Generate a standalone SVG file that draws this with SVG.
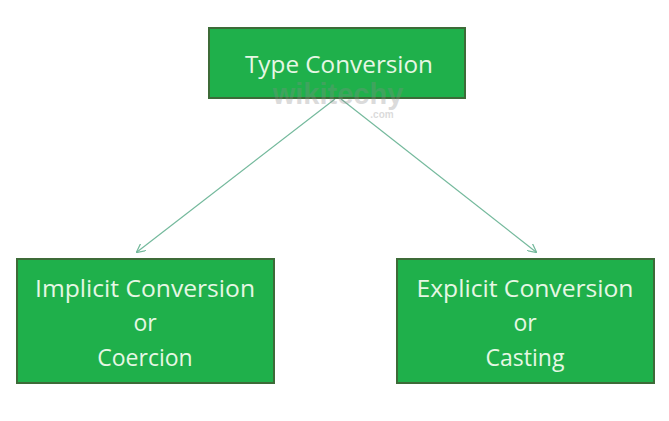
<svg xmlns="http://www.w3.org/2000/svg" width="669" height="421" viewBox="0 0 669 421">
  <style>
    .box { fill: #1fb04b; stroke: #3d6b38; stroke-width: 2; }
    .lbl { font-family: "Open Sans", "Noto Sans", sans-serif; font-size: 23px; fill: #e6f7e4; text-anchor: middle; }
    .edge { stroke: #74b99c; stroke-width: 1.2; fill: none; marker-end: url(#arr); }
    .wm { font-family: "Liberation Sans", sans-serif; font-weight: bold; fill: #8a8a8a; opacity: 0.3; }
  </style>
  <defs>
    <marker id="arr" viewBox="0 0 10 10" refX="9" refY="5" markerWidth="9" markerHeight="9" markerUnits="userSpaceOnUse" orient="auto">
      <path d="M0,0 L10,5 L0,10" fill="none" stroke="#74b99c" stroke-width="1.4"/>
    </marker>
  </defs>
  <rect width="669" height="421" fill="#ffffff"/>
  <g id="connectors">
    <line class="edge" x1="335" y1="99" x2="137" y2="252"/>
    <line class="edge" x1="341" y1="99" x2="536" y2="252"/>
  </g>
  <g id="type-conversion">
    <rect class="box" x="209" y="28" width="256" height="70"/>
    <text class="lbl" x="339" y="73" textLength="188" lengthAdjust="spacingAndGlyphs">Type Conversion</text>
  </g>
  <g id="watermark">
    <text class="wm" x="338" y="104" font-size="29" text-anchor="middle">wikitechy</text>
    <text class="wm" x="382" y="118" font-size="10" font-weight="normal" text-anchor="middle">.com</text>
  </g>
  <g id="implicit-conversion">
    <rect class="box" x="17" y="259" width="257" height="124"/>
    <text class="lbl" x="145" y="297" textLength="220" lengthAdjust="spacingAndGlyphs">Implicit Conversion</text>
    <text class="lbl" x="145" y="331">or</text>
    <text class="lbl" x="145" y="366">Coercion</text>
  </g>
  <g id="explicit-conversion">
    <rect class="box" x="397" y="259" width="257" height="124"/>
    <text class="lbl" x="525" y="297" textLength="217" lengthAdjust="spacingAndGlyphs">Explicit Conversion</text>
    <text class="lbl" x="525" y="331">or</text>
    <text class="lbl" x="525" y="366">Casting</text>
  </g>
</svg>
